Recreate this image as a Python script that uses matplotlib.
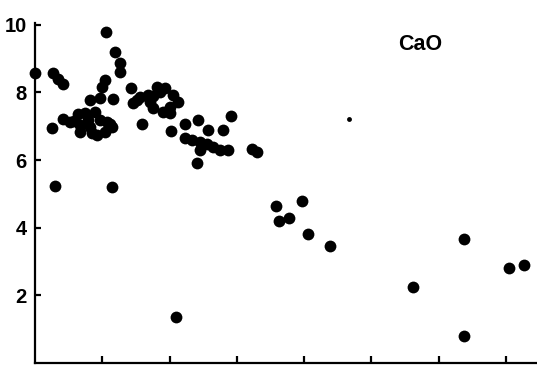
import matplotlib
matplotlib.use("Agg")
import matplotlib.pyplot as plt

# CaO content (wt %) against the sample position along the x scale
x_vals = [0.00, 0.27, 0.34, 0.42, 0.25, 0.42, 1.05, 1.19, 1.26, 1.26,
          1.04, 1.00, 0.82, 0.97, 1.16, 1.43, 1.46, 1.52, 1.56, 1.59,
          0.64, 0.58, 0.67, 0.79, 0.89, 0.82, 0.67, 0.92, 1.04, 1.14,
          1.07, 0.74, 0.85, 0.52, 0.97, 1.11,
          1.81, 1.93, 2.05, 2.12, 2.01, 1.90, 1.75, 1.71, 1.75, 2.01,
          1.86, 1.68, 2.02, 2.23, 2.42, 2.57, 2.79, 2.91, 2.23, 2.33,
          2.45, 2.56, 2.64, 2.75, 2.87, 2.45, 2.41, 3.22, 3.30,
          0.30, 1.14, 2.10, 3.58, 3.63, 3.77, 3.97, 4.06, 4.38,
          5.62, 6.37, 6.37, 7.04, 7.27]
cao_vals = [8.57, 8.57, 8.39, 8.24, 6.94, 7.21, 9.78, 9.19, 8.86, 8.60,
            8.36, 8.15, 7.77, 7.83, 7.80, 8.12, 7.68, 7.77, 7.86, 7.06,
            7.36, 7.15, 7.03, 7.18, 7.42, 6.97, 6.82, 6.74, 6.82, 6.97,
            7.12, 7.39, 6.79, 7.12, 7.18, 7.06,
            8.15, 8.12, 7.92, 7.71, 7.56, 7.42, 7.53, 7.71, 7.89, 7.39,
            8.01, 7.92, 6.85, 7.06, 7.18, 6.88, 6.88, 7.30, 6.65, 6.59,
            6.53, 6.47, 6.38, 6.29, 6.29, 6.29, 5.91, 6.32, 6.23,
            5.23, 5.20, 1.36, 4.64, 4.20, 4.28, 4.79, 3.81, 3.46,
            2.25, 3.66, 0.80, 2.81, 2.90]

# single analysis plotted with a smaller symbol
minor_x = [4.67]
minor_cao = [7.21]

x_ticks = [1, 2, 3, 4, 5, 6, 7]
y_ticks = [2, 4, 6, 8, 10]
y_ticklabels = ["2", "4", "6", "8", "10"]
panel_label = "CaO"

fig = plt.figure(figsize=(5.37, 3.73), dpi=100)
ax = fig.add_axes([35 / 537, 10 / 373, 1 - 35 / 537, 340 / 373])

ax.plot(x_vals, cao_vals, "o", color="black", markersize=8.5,
        markeredgewidth=0, clip_on=False)
ax.plot(minor_x, minor_cao, "o", color="black", markersize=3.5,
        markeredgewidth=0, clip_on=False)

ax.set_xlim(0, 7.46)
ax.set_ylim(0, 10.05)

for side in ("top", "right"):
    ax.spines[side].set_visible(False)
for side in ("left", "bottom"):
    ax.spines[side].set_linewidth(1.6)

ax.set_xticks(x_ticks)
ax.set_xticklabels([])
ax.set_yticks(y_ticks)
ax.set_yticklabels(y_ticklabels)
ax.tick_params(axis="both", direction="in", width=1.6)
ax.tick_params(axis="x", length=5)
ax.tick_params(axis="y", length=4, pad=6)
for lbl in ax.get_yticklabels():
    lbl.set_fontfamily("Liberation Sans")
    lbl.set_fontweight("bold")
    lbl.set_fontsize(14.5)

# panel label in the upper right, placed in figure-pixel units
ax.text(420 / 537, 1 - 44 / 373, panel_label, transform=fig.transFigure,
        fontsize=15.5, fontfamily="Liberation Sans", fontweight="bold",
        ha="center", va="center")

fig.savefig("out.png", dpi=100, facecolor="white")
